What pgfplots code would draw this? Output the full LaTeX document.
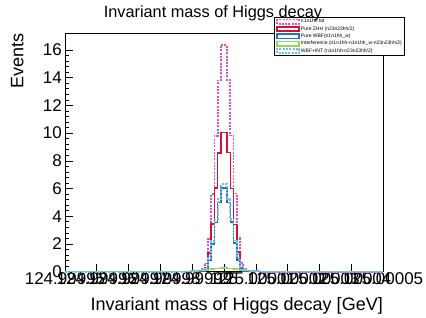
\documentclass[border=0pt]{standalone}
\usepackage{fontspec}
\setmainfont{Liberation Sans}
\usepackage{pgfplots}
\pgfplotsset{compat=1.18}
\definecolor{ctot}{RGB}{225,80,190}
\definecolor{czhh}{RGB}{210,20,50}
\definecolor{cwbf}{RGB}{30,115,195}
\definecolor{cint}{RGB}{150,215,90}
\definecolor{cwi}{RGB}{120,185,235}
\begin{document}
\begin{tikzpicture}
\useasboundingbox (0,0) rectangle (426pt,318pt);
\begin{axis}[
  at={(65pt,46.3pt)}, anchor=south west,
  scale only axis, width=318pt, height=238.4pt,
  xmin=0, xmax=10, ymin=0, ymax=17.2,
  clip=false,
  axis line style={line width=0.6pt},
  xtick={0,1,2,3,4,5,6,7,8,9,10},
  xticklabels={124.99995,124.99996,124.99997,124.99998,124.99999,125,125.00001,125.00002,125.00003,125.00004,125.00005},
  ytick={0,2,4,6,8,10,12,14,16},
  minor y tick num=4,
  xtick pos=bottom, ytick pos=left,
  tick align=inside,
  major tick length=8pt, minor tick length=4.5pt,
  tick style={line width=0.6pt, black},
  /pgf/number format/assume math mode=true,
  ticklabel style={font=\fontsize{17}{20}\selectfont},
  xticklabel style={inner ysep=1pt},
  yticklabel style={inner xsep=3pt},
  const plot,
  legend image code/.code={\draw[#1] (0pt,-2.2pt) rectangle (22pt,2.2pt);},
  legend style={at={(1.069,1.068)}, anchor=north east, draw=black, line width=0.5pt, fill=white,
    font=\fontsize{5}{6}\selectfont, inner xsep=2pt, inner ysep=1pt, row sep=0.6pt,
    nodes={inner sep=0.8pt}},
  legend cell align=left,
]
\addplot[ctot, line width=1.8pt, dash pattern=on 2pt off 1.3pt] coordinates {
(0,0) (3.8,0.018) (3.9,0.028) (4.0,0.041) (4.1,0.059) (4.2,0.081) (4.3,0.167) (4.4,0.597) (4.5,2.337) (4.6,5.616) (4.7,9.811) (4.8,13.799) (4.9,16.35) (5.0,16.35) (5.1,13.84) (5.2,9.82) (5.3,5.646) (5.4,2.417) (5.5,0.637) (5.6,0.187) (5.7,0.081) (5.8,0.059) (5.9,0.041) (6.0,0.028) (6.1,0.018) (6.2,0) (10,0)};
\addlegendentry{n1n1hh tot}
\addplot[czhh, line width=1.6pt] coordinates {
(0,0) (4.3,0.04) (4.4,0.29) (4.5,1.37) (4.6,3.42) (4.7,6.04) (4.8,8.56) (4.9,10.05) (5.0,10.05) (5.1,8.6) (5.2,6.0) (5.3,3.4) (5.4,1.4) (5.5,0.3) (5.6,0.05) (5.7,0) (10,0)};
\addlegendentry{Pure ZHH (n23n23hh/2)}
\addplot[cwbf, line width=1.6pt] coordinates {
(0,0) (4.3,0.02) (4.4,0.17) (4.5,0.8) (4.6,2.0) (4.7,3.55) (4.8,5.0) (4.9,6.05) (5.0,6.05) (5.1,5.0) (5.2,3.6) (5.3,2.05) (5.4,0.85) (5.5,0.2) (5.6,0.03) (5.7,0) (10,0)};
\addlegendentry{Pure WBF(n1n1hh\_w)}
\addplot[cint, line width=1.6pt] coordinates {
(0,0) (3.8,0.018) (3.9,0.028) (4.0,0.041) (4.1,0.059) (4.2,0.081) (4.3,0.107) (4.4,0.137) (4.5,0.167) (4.6,0.196) (4.7,0.221) (4.8,0.239) (4.9,0.249) (5.0,0.249) (5.1,0.239) (5.2,0.221) (5.3,0.196) (5.4,0.167) (5.5,0.137) (5.6,0.107) (5.7,0.081) (5.8,0.059) (5.9,0.041) (6.0,0.028) (6.1,0.018) (6.2,0) (10,0)};
\addlegendentry{Interference (n1n1hh-n1n1hh\_w-n23n23hh/2)}
\addplot[cwi, line width=1.8pt, dash pattern=on 2pt off 1.3pt] coordinates {
(0,0) (3.8,0.018) (3.9,0.028) (4.0,0.041) (4.1,0.059) (4.2,0.081) (4.3,0.127) (4.4,0.307) (4.5,0.967) (4.6,2.196) (4.7,3.771) (4.8,5.239) (4.9,6.299) (5.0,6.299) (5.1,5.239) (5.2,3.821) (5.3,2.246) (5.4,1.017) (5.5,0.337) (5.6,0.137) (5.7,0.081) (5.8,0.059) (5.9,0.041) (6.0,0.028) (6.1,0.018) (6.2,0) (10,0)};
\addlegendentry{WBF+INT (n1n1hh-n23n23hh/2)}
\end{axis}
\node[anchor=base, font=\fontsize{16.3}{19}\selectfont, inner sep=0pt] at (213pt,300pt) {Invariant mass of Higgs decay};
\node[anchor=base east, font=\fontsize{18}{21}\selectfont, inner sep=0pt] at (383pt,7pt) {Invariant mass of Higgs decay [GeV]};
\node[anchor=base east, rotate=90, font=\fontsize{18}{21}\selectfont, inner sep=0pt] at (23.3pt,285pt) {Events};
\end{tikzpicture}
\end{document}
